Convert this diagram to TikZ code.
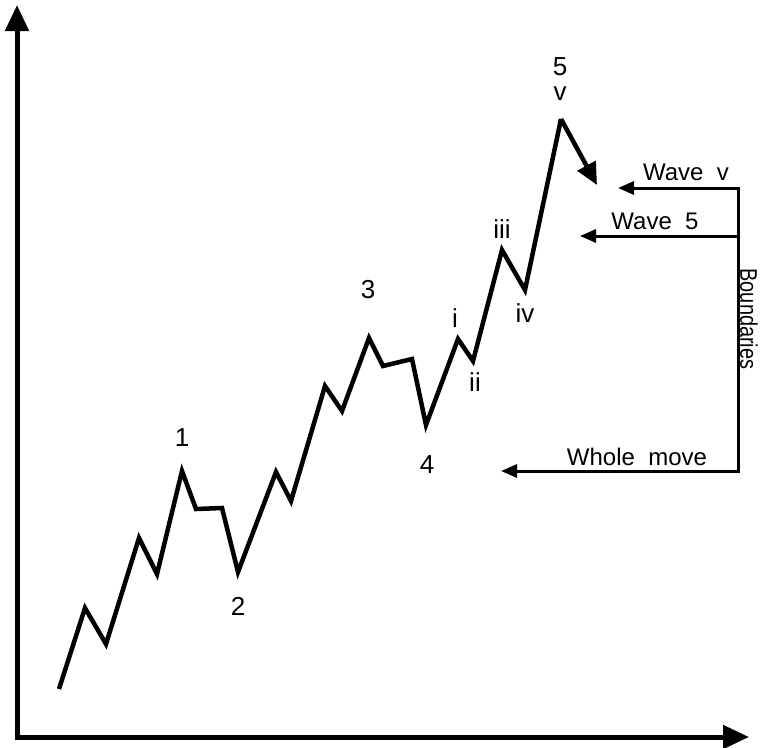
\documentclass[tikz,border=0pt]{standalone}
\usepackage{fontspec}
\setmainfont{Liberation Sans}
\usetikzlibrary{arrows.meta}
\begin{document}
\begin{tikzpicture}[x=1pt,y=-1pt,
  axis/.style={line width=5pt,-{Triangle[length=26pt,width=23pt]}},
  wave/.style={line width=4.5pt,line join=miter},
  bound/.style={line width=3pt},
  boundarrow/.style={line width=3pt,-{Triangle[length=16pt,width=13pt]}},
  lbl/.style={inner sep=0pt,font=\fontsize{26}{26}\selectfont},
  txt/.style={inner sep=0pt,font=\fontsize{24}{24}\selectfont}]
\useasboundingbox (0,0) rectangle (760,747);
% axes
\coordinate (O) at (17,737);
\coordinate (ytip) at (17,5);
\coordinate (xtip) at (749,737);
\draw[axis] (O) -- (ytip);
\draw[axis] ([xshift=-2.5pt]O) -- (xtip);
% wave vertices
\coordinate (p0) at (59,689);
\coordinate (p1) at (85,608);
\coordinate (p2) at (106,644);
\coordinate (p3) at (139,538);
\coordinate (p4) at (157,574);
\coordinate (w1) at (182,471);
\coordinate (p6) at (196,509);
\coordinate (p7) at (222,508);
\coordinate (w2) at (238,572);
\coordinate (p9) at (276,472);
\coordinate (p10) at (291,501);
\coordinate (p11) at (325,386);
\coordinate (p12) at (342,411);
\coordinate (w3) at (369,338);
\coordinate (p14) at (383,366);
\coordinate (p15) at (412,359);
\coordinate (w4) at (426,425);
\coordinate (wi) at (458,339);
\coordinate (wii) at (473,361);
\coordinate (wiii) at (502,250);
\coordinate (wiv) at (525,290);
\coordinate (wv) at (561,119);
\coordinate (wend) at (597,185);
\draw[wave] (p0) -- (p1) -- (p2) -- (p3) -- (p4) -- (w1) -- (p6) -- (p7) -- (w2)
  -- (p9) -- (p10) -- (p11) -- (p12) -- (w3) -- (p14) -- (p15) -- (w4)
  -- (wi) -- (wii) -- (wiii) -- (wiv) -- (wv);
\draw[line width=4.5pt,-{Triangle[length=22pt,width=20pt]}] (wv) -- (wend);
% wave labels
\node[lbl] (l1) at (182,438) {1};
\node[lbl] (l2) at (238,606) {2};
\node[lbl] (l3) at (368,290) {3};
\node[lbl] (l4) at (427,465) {4};
\node[lbl] (l5) at (560,67) {5};
\node[lbl] (lv) at (560,94) {v};
\node[lbl] (li) at (455,318) {i};
\node[lbl] (lii) at (475,382) {ii};
\node[lbl] (liii) at (502,229) {iii};
\node[lbl] (liv) at (525,313) {iv};
% boundaries
\coordinate (bt) at (738,188);
\coordinate (bm) at (738,236);
\coordinate (bb) at (738,471);
\coordinate (tv) at (618,188);
\coordinate (t5) at (580,236);
\coordinate (tw) at (501,471);
\draw[bound] (bt) -- (bb);
\draw[boundarrow] ([xshift=1.5pt]bt) -- (tv);
\draw[boundarrow] (bm) -- (t5);
\draw[boundarrow] ([xshift=1.5pt]bb) -- (tw);
\node[txt] (twv) at (686,172) {Wave\ \ v};
\node[txt] (tw5) at (655,221) {Wave\ \ 5};
\node[txt] (twm) at (637,457) {Whole\ \ move};
\node[txt,rotate=-90] (tbd) at (749,319) {\scalebox{0.83}[1]{Boundaries}};
\end{tikzpicture}
\end{document}
